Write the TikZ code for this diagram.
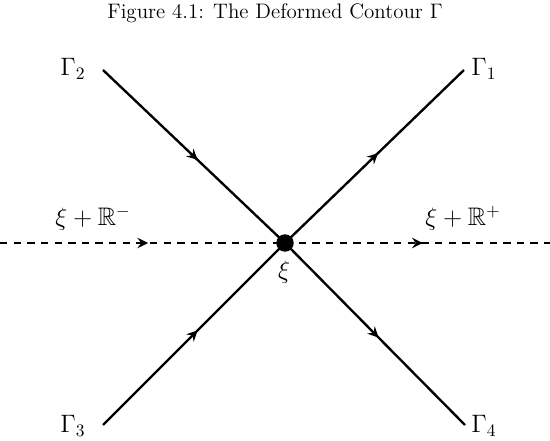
\documentclass[tikz,border=0pt]{standalone}
\usepackage{amssymb}
\usetikzlibrary{arrows.meta,decorations.markings}
\begin{document}
\begin{tikzpicture}[x=0.572pt,y=-0.572pt,
  midarrow/.style={postaction={decorate},
    decoration={markings, mark=at position 0.52 with {\arrow{Stealth[length=6.2pt,width=6pt,inset=2.2pt]}}}},
  contour/.style={line width=1.35pt, midarrow},
  axisline/.style={line width=1.35pt, dash pattern=on 4.2pt off 3.6pt, midarrow},
  dot/.style={circle, fill=black, inner sep=0pt, minimum size=10pt},
  lab/.style={inner sep=0pt, font=\fontsize{14.5}{17}\selectfont},
  caption/.style={inner sep=0pt, font=\fontsize{12}{14}\selectfont}
]
\useasboundingbox (0,0) rectangle (550,441);
\node[caption] (title) at (275,13) {Figure 4.1: The Deformed Contour $\Gamma$};
\coordinate (o) at (285,243);
\coordinate (e1) at (464,70);
\coordinate (e2) at (103,70);
\coordinate (e3) at (103,425);
\coordinate (e4) at (465,425);
\coordinate (w) at (0,243);
\coordinate (east) at (550,243);
\draw[contour] (e2) -- (o);
\draw[contour] (o) -- (e1);
\draw[contour] (e3) -- (o);
\draw[contour] (o) -- (e4);
\draw[axisline] (w) -- (o);
\draw[axisline] (o) -- (east);
\node[dot] (c) at (o) {};
\node[lab] (g1) at (484,69) {$\Gamma_1$};
\node[lab] (g2) at (73,69) {$\Gamma_2$};
\node[lab] (g3) at (73,426) {$\Gamma_3$};
\node[lab] (g4) at (484,426) {$\Gamma_4$};
\node[lab] (rm) at (93,218) {$\xi+\mathbb{R}^-$};
\node[lab] (rp) at (463,218) {$\xi+\mathbb{R}^+$};
\node[lab] (xi) at (284,272) {$\xi$};
\end{tikzpicture}
\end{document}
